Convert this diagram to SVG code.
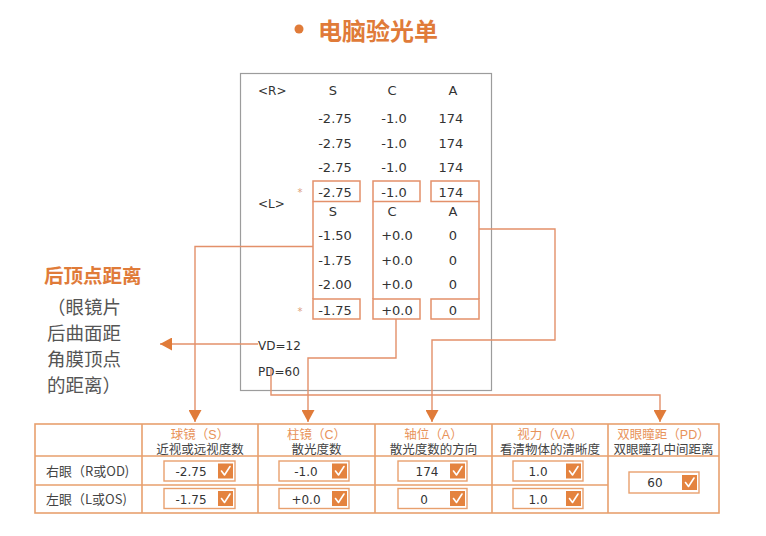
<svg xmlns="http://www.w3.org/2000/svg" width="766" height="536" viewBox="0 0 766 536">
<style>
.gb{fill:none;stroke:#9c9c9c;stroke-width:1.2}
.rb{fill:none;stroke:#E3906A;stroke-width:1.5}
.ln{fill:none;stroke:#E3906A;stroke-width:1.4}
.rt{font-family:"DejaVu Sans",sans-serif;font-size:13px;fill:#333;text-anchor:middle}
.rl{font-family:"DejaVu Sans",sans-serif;font-size:12px;fill:#333}
.ast{font-family:"DejaVu Sans",sans-serif;font-size:10px;fill:#dd9e7c;text-anchor:middle}
.tb{fill:none;stroke:#E8A06E;stroke-width:1.6}
.vb{fill:#fff;stroke:#E8A06E;stroke-width:1.4}
.ck{fill:#E4833F}
.ckm{fill:none;stroke:#fff;stroke-width:1.6;stroke-linecap:round;stroke-linejoin:round}
.vt{font-family:"DejaVu Sans",sans-serif;font-size:12px;fill:#333;text-anchor:middle}
.h1{font-family:"Liberation Sans","Noto Sans CJK SC",sans-serif;font-size:12.5px;fill:#E8935A;text-anchor:middle}
.h2{font-family:"Liberation Sans","Noto Sans CJK SC",sans-serif;font-size:12.5px;fill:#444;text-anchor:middle}
.lab{font-family:"Noto Sans CJK SC",sans-serif;font-size:13px;fill:#444}
.side{font-family:"Noto Sans CJK SC",sans-serif;font-size:18.5px;fill:#555}
</style>
<defs>
<marker id="ah" viewBox="0 0 12 13" refX="12" refY="6.5" markerWidth="12" markerHeight="13" orient="auto" markerUnits="userSpaceOnUse">
<path d="M0,0 L12,6.5 L0,13 z" fill="#E07B39"/>
</marker>
<g id="chk"><rect class="ck" width="15" height="15"/><path class="ckm" d="M3.5,7.5 L6.5,11.5 L12,3"/></g>
</defs>
<rect width="766" height="536" fill="#fff"/>

<g id="title">
<circle cx="299" cy="29" r="4.5" fill="#E07B39"/>
<text x="318" y="40" font-family="Noto Sans CJK SC,sans-serif" font-size="24" font-weight="bold" fill="#E07B39">电脑验光单</text>
</g>

<g id="receipt">
<rect class="gb" x="240.5" y="73.5" width="251" height="317"/>
<text class="rl" x="258" y="95">&lt;R&gt;</text>
<text class="rt" x="333" y="95">S</text><text class="rt" x="392" y="95">C</text><text class="rt" x="453" y="95">A</text>
<text class="rt" x="335" y="123">-2.75</text><text class="rt" x="394" y="123">-1.0</text><text class="rt" x="451" y="123">174</text>
<text class="rt" x="335" y="147.5">-2.75</text><text class="rt" x="394" y="147.5">-1.0</text><text class="rt" x="451" y="147.5">174</text>
<text class="rt" x="335" y="172">-2.75</text><text class="rt" x="394" y="172">-1.0</text><text class="rt" x="451" y="172">174</text>
<text class="ast" x="300" y="196">*</text>
<text class="rt" x="335" y="197">-2.75</text><text class="rt" x="394" y="197">-1.0</text><text class="rt" x="451" y="197">174</text>
<rect class="rb" x="313" y="181" width="47" height="20.5"/>
<rect class="rb" x="373" y="181" width="47" height="20.5"/>
<rect class="rb" x="431" y="181" width="48" height="20.5"/>
<path class="rb" d="M313,201.5 V299 M373,201.5 V299 M479,201.5 V299"/>
<text class="rl" x="258" y="208">&lt;L&gt;</text>
<text class="rt" x="333" y="216">S</text><text class="rt" x="392" y="216">C</text><text class="rt" x="453" y="216">A</text>
<text class="rt" x="335" y="240">-1.50</text><text class="rt" x="397" y="240">+0.0</text><text class="rt" x="453" y="240">0</text>
<text class="rt" x="335" y="265">-1.75</text><text class="rt" x="397" y="265">+0.0</text><text class="rt" x="453" y="265">0</text>
<text class="rt" x="335" y="289">-2.00</text><text class="rt" x="397" y="289">+0.0</text><text class="rt" x="453" y="289">0</text>
<text class="ast" x="300" y="315">*</text>
<rect class="rb" x="313" y="299" width="47" height="20"/>
<rect class="rb" x="373" y="299" width="47" height="20"/>
<rect class="rb" x="431" y="299" width="48" height="20"/>
<text class="rt" x="335" y="315">-1.75</text><text class="rt" x="397" y="315">+0.0</text><text class="rt" x="453" y="315">0</text>
<text class="rl" x="258" y="350" font-size="13">VD=12</text>
<text class="rl" x="258" y="376" font-size="13">PD=60</text>
</g>

<g id="connectors">
<path class="ln" d="M313,246.5 H195 V422" marker-end="url(#ah)"/>
<path class="ln" d="M396,319 V358 H308 V422" marker-end="url(#ah)"/>
<path class="ln" d="M479,229 H555 V340 H432 V422" marker-end="url(#ah)"/>
<path class="ln" d="M271,369 V395 H660 V422" marker-end="url(#ah)"/>
<path class="ln" d="M258,344 H160" marker-end="url(#ah)"/>
</g>

<g id="vd-label">
<text x="44" y="283" font-family="Noto Sans CJK SC,sans-serif" font-size="19.5" font-weight="bold" fill="#E07B39">后顶点距离</text>
<text class="side" x="47" y="314">（眼镜片</text>
<text class="side" x="47" y="340">后曲面距</text>
<text class="side" x="47" y="366">角膜顶点</text>
<text class="side" x="47" y="392">的距离）</text>
</g>

<g id="table">
<rect class="tb" x="35" y="424" width="684" height="89"/>
<path class="tb" d="M142,424 V513 M258,424 V513 M375,424 V513 M492,424 V513 M608,424 V513 M35,456 H719 M35,485 H608"/>
<text class="h1" x="200" y="438.5">球镜（S）</text><text class="h2" x="200" y="453.5">近视或远视度数</text>
<text class="h1" x="316.5" y="438.5">柱镜（C）</text><text class="h2" x="316.5" y="453.5">散光度数</text>
<text class="h1" x="433.5" y="438.5">轴位（A）</text><text class="h2" x="433.5" y="453.5">散光度数的方向</text>
<text class="h1" x="550" y="438.5">视力（VA）</text><text class="h2" x="550" y="453.5">看清物体的清晰度</text>
<text class="h1" x="663.5" y="438.5">双眼瞳距（PD）</text><text class="h2" x="663.5" y="453.5">双眼瞳孔中间距离</text>
<text class="lab" x="46" y="476">右眼（R或OD)</text>
<text class="lab" x="46" y="503.5">左眼（L或OS)</text>
</g>

<g id="values">
<rect class="vb" x="164" y="461" width="71" height="20"/><use href="#chk" x="218" y="463.5"/><text class="vt" x="191" y="476">-2.75</text>
<rect class="vb" x="164" y="488.5" width="71" height="20"/><use href="#chk" x="218" y="491"/><text class="vt" x="191" y="503.5">-1.75</text>
<rect class="vb" x="279" y="461" width="70" height="20"/><use href="#chk" x="332" y="463.5"/><text class="vt" x="306" y="476">-1.0</text>
<rect class="vb" x="279" y="488.5" width="70" height="20"/><use href="#chk" x="332" y="491"/><text class="vt" x="306" y="503.5">+0.0</text>
<rect class="vb" x="398" y="461" width="69" height="20"/><use href="#chk" x="450" y="463.5"/><text class="vt" x="427" y="476">174</text>
<rect class="vb" x="398" y="488.5" width="69" height="20"/><use href="#chk" x="450" y="491"/><text class="vt" x="424" y="503.5">0</text>
<rect class="vb" x="513" y="461" width="70" height="20"/><use href="#chk" x="566" y="463.5"/><text class="vt" x="538" y="476">1.0</text>
<rect class="vb" x="513" y="488.5" width="70" height="20"/><use href="#chk" x="566" y="491"/><text class="vt" x="538" y="503.5">1.0</text>
<rect class="vb" x="629" y="472" width="70" height="21"/><use href="#chk" x="682" y="475"/><text class="vt" x="655" y="487">60</text>
</g>
</svg>
